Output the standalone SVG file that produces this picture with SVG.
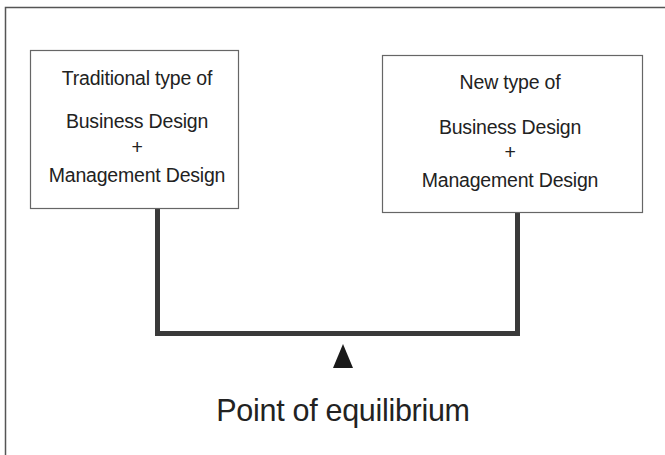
<svg xmlns="http://www.w3.org/2000/svg" width="665" height="455" viewBox="0 0 665 455">
  <style>
    .box { fill: #ffffff; stroke: #666666; stroke-width: 1.2; }
    .label { font-family: "Liberation Sans", Arial, sans-serif; font-size: 19.5px; fill: #222222; text-anchor: middle; letter-spacing: -0.2px; }
    .caption { font-family: "Liberation Sans", Arial, sans-serif; font-size: 30.5px; fill: #222222; text-anchor: middle; letter-spacing: -0.3px; }
    .beam { fill: none; stroke: #3a3a3a; stroke-width: 5; stroke-linejoin: miter; }
  </style>
  <rect width="665" height="455" fill="#ffffff"/>
  <!-- outer frame (top and left edges) -->
  <path d="M5.5,455 V7.5 H665" fill="none" stroke="#555555" stroke-width="1.5"/>

  <g id="connectors">
    <path class="beam" d="M157.5,208 V333.5 H517.5 V212"/>
    <polygon id="fulcrum" points="343,344 353,368 333,368" fill="#1a1a1a"/>
  </g>

  <g id="traditional">
    <rect class="box" x="30.5" y="50.5" width="208" height="158"/>
    <text class="label" x="137" y="85">Traditional type of</text>
    <text class="label" x="137" y="128">Business Design</text>
    <text class="label" x="137" y="154">+</text>
    <text class="label" x="137" y="182">Management Design</text>
  </g>

  <g id="new-type">
    <rect class="box" x="382.5" y="55.5" width="260" height="157"/>
    <text class="label" x="510" y="89">New type of</text>
    <text class="label" x="510" y="134">Business Design</text>
    <text class="label" x="510" y="159">+</text>
    <text class="label" x="510" y="187">Management Design</text>
  </g>

  <g id="equilibrium">
    <text class="caption" x="343" y="421">Point of equilibrium</text>
  </g>
</svg>
